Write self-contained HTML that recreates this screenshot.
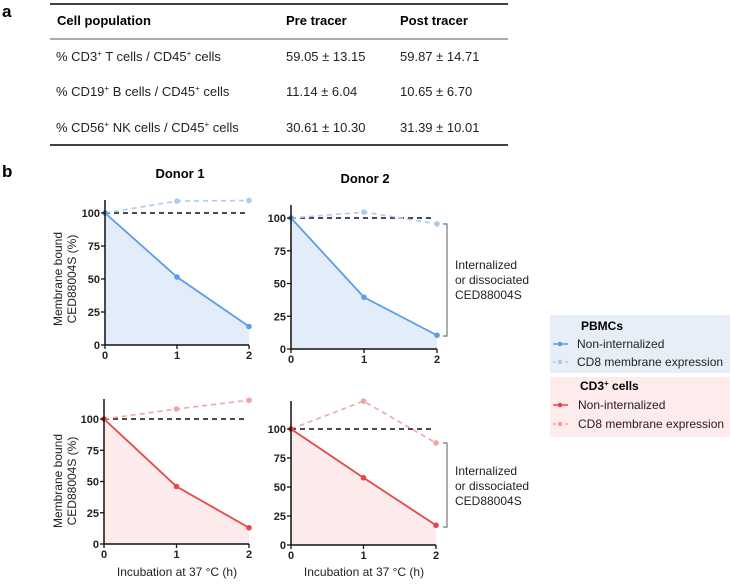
<!DOCTYPE html>
<html><head><meta charset="utf-8"><style>
body{margin:0;background:#fff;width:731px;height:581px;overflow:hidden;font-family:"Liberation Sans",Arial,sans-serif}
svg text{font-family:"Liberation Sans",Arial,sans-serif}
</style></head><body>
<svg id="fig" width="731" height="581" viewBox="0 0 731 581" xmlns="http://www.w3.org/2000/svg">
<g>
<text x="2" y="17" font-size="17" font-weight="bold">a</text>
<line x1="50" y1="4" x2="508" y2="4" stroke="#000" stroke-width="1.6"/>
<line x1="50" y1="39" x2="508" y2="39" stroke="#555" stroke-width="1"/>
<line x1="50" y1="145" x2="508" y2="145" stroke="#000" stroke-width="1.6"/>
<g font-size="13" font-weight="bold">
<text x="57" y="25">Cell population</text><text x="286" y="25">Pre tracer</text><text x="400" y="25">Post tracer</text></g>
<g font-size="13" fill="#222">
<text x="56" y="61">% CD3<tspan font-size="8" dy="-5">+</tspan><tspan dy="5"> T cells / CD45</tspan><tspan font-size="8" dy="-5">+</tspan><tspan dy="5"> cells</tspan></text>
<text x="286" y="61">59.05 ± 13.15</text><text x="400" y="61">59.87 ± 14.71</text>
<text x="56" y="96">% CD19<tspan font-size="8" dy="-5">+</tspan><tspan dy="5"> B cells / CD45</tspan><tspan font-size="8" dy="-5">+</tspan><tspan dy="5"> cells</tspan></text>
<text x="286" y="96">11.14  ±  6.04</text><text x="400" y="96">10.65  ±  6.70</text>
<text x="56" y="132">% CD56<tspan font-size="8" dy="-5">+</tspan><tspan dy="5"> NK cells / CD45</tspan><tspan font-size="8" dy="-5">+</tspan><tspan dy="5"> cells</tspan></text>
<text x="286" y="132">30.61  ± 10.30</text><text x="400" y="132">31.39  ± 10.01</text>
</g></g>
<text x="2" y="177" font-size="17" font-weight="bold">b</text>
<text x="180" y="178" font-size="13" font-weight="bold" text-anchor="middle">Donor 1</text>
<text x="365" y="183" font-size="13" font-weight="bold" text-anchor="middle">Donor 2</text>
<g font-size="12" fill="#222" text-anchor="middle" transform="translate(62,279) rotate(-90)"><text x="0" y="0">Membrane bound</text><text x="0" y="14">CED88004S (%)</text></g>
<g font-size="12" fill="#222" text-anchor="middle" transform="translate(62,481) rotate(-90)"><text x="0" y="0">Membrane bound</text><text x="0" y="14">CED88004S (%)</text></g>
<text x="177" y="576" font-size="12" fill="#222" text-anchor="middle">Incubation at 37 °C (h)</text>
<text x="364" y="576" font-size="12" fill="#222" text-anchor="middle">Incubation at 37 °C (h)</text>
<g><path d="M443 224 H447 V336 H443" fill="none" stroke="#777" stroke-width="1.2"/>
<g font-size="12" fill="#222"><text x="455" y="269">Internalized</text><text x="455" y="284">or dissociated</text><text x="455" y="299">CED88004S</text></g></g>
<g><path d="M443 443 H447 V527 H443" fill="none" stroke="#777" stroke-width="1.2"/>
<g font-size="12" fill="#222"><text x="455" y="475">Internalized</text><text x="455" y="490">or dissociated</text><text x="455" y="505">CED88004S</text></g></g>
<g>
<rect x="550" y="315" width="180" height="58" fill="#e8eef8"/>
<rect x="550" y="377" width="180" height="60" fill="#fdeceb"/>
<text x="581" y="330" font-size="12" font-weight="bold">PBMCs</text>
<g><line x1="553" y1="344" x2="568" y2="344" stroke="#5a9ee8" stroke-width="1.5"/><circle cx="560" cy="344" r="2.3" fill="#5a9ee8"/><text x="577" y="348" font-size="12" fill="#222">Non-internalized</text></g>
<g><line x1="553" y1="362" x2="568" y2="362" stroke="#a9cbf0" stroke-width="1.5" stroke-dasharray="3,3"/><circle cx="560" cy="362" r="2.3" fill="#a9cbf0"/><text x="577" y="366" font-size="12" fill="#222">CD8 membrane expression</text></g>
<text x="580" y="390" font-size="12" font-weight="bold">CD3<tspan font-size="8" dy="-4">+</tspan><tspan dy="4"> cells</tspan></text>
<g><line x1="553" y1="405" x2="568" y2="405" stroke="#e54848" stroke-width="1.5"/><circle cx="560" cy="405" r="2.3" fill="#e54848"/><text x="578" y="409" font-size="12" fill="#222">Non-internalized</text></g>
<g><line x1="553" y1="424" x2="568" y2="424" stroke="#f3a3a3" stroke-width="1.5" stroke-dasharray="3,3"/><circle cx="560" cy="424" r="2.3" fill="#f3a3a3"/><text x="578" y="428" font-size="12" fill="#222">CD8 membrane expression</text></g>
</g>
<g id="charts"></g>
</svg>
<script>
const hours = [0, 1, 2];
const yTicks = [0, 25, 50, 75, 100];
const d1PbmcNonInt = [100, 51.5, 14];
const d1PbmcCd8 = [100, 109, 109.5];
const d2PbmcNonInt = [100, 39.5, 10.5];
const d2PbmcCd8 = [100, 104.5, 95.5];
const d1Cd3NonInt = [100, 46, 13];
const d1Cd3Cd8 = [100, 108, 115];
const d2Cd3NonInt = [100, 58, 17];
const d2Cd3Cd8 = [100, 124, 88];
const refLine = [100, 100];

const NS = 'http://www.w3.org/2000/svg';
const root = document.getElementById('charts');
function mk(tag, attrs, parent){const e=document.createElementNS(NS,tag);for(const k in attrs)e.setAttribute(k,attrs[k]);parent.appendChild(e);return e;}

function panel(name, ax, y0, y100, x2, top, solid, dashed, cSolid, cDash, fill){
  const g = mk('g', {}, root);
  
  
  const sx = h => ax + (x2 - ax) * h / 2;
  const sy = v => y0 - (y0 - y100) * v / 100;
  let a = 'M' + sx(hours[0]) + ' ' + sy(0);
  hours.forEach((h,i)=>{a += ' L' + sx(h) + ' ' + sy(solid[i]);});
  a += ' L' + sx(hours[hours.length-1]) + ' ' + sy(0) + ' Z';
  const area = mk('path', {d:a, fill:fill}, g);
  
  
  const ref = mk('line', {x1:sx(0), y1:sy(refLine[0]), x2:sx(1.95), y2:sy(refLine[1]), stroke:'#111', 'stroke-width':1.6, 'stroke-dasharray':'5,4'}, g);
  
  
  const pts = arr => hours.map((h,i)=>sx(h)+','+sy(arr[i])).join(' ');
  const dl = mk('polyline', {points:pts(dashed), fill:'none', stroke:cDash, 'stroke-width':1.6, 'stroke-dasharray':'5,4'}, g);
  
  
  const sl = mk('polyline', {points:pts(solid), fill:'none', stroke:cSolid, 'stroke-width':1.8}, g);
  
  
  hours.forEach((h,i)=>{
    const p = mk('circle', {cx:sx(h), cy:sy(dashed[i]), r:2.8, fill:cDash}, g);
    
    
    const q = mk('circle', {cx:sx(h), cy:sy(solid[i]), r:2.8, fill:cSolid}, g);
    
    
  });
  mk('line', {x1:ax, y1:top, x2:ax, y2:y0, stroke:'#111', 'stroke-width':1.5}, g);
  mk('line', {x1:ax, y1:y0, x2:x2, y2:y0, stroke:'#111', 'stroke-width':1.5}, g);
  yTicks.forEach(t=>{
    mk('line', {x1:ax-4, y1:sy(t), x2:ax, y2:sy(t), stroke:'#111', 'stroke-width':1.3}, g);
    const tx = mk('text', {x:ax-5, y:sy(t)+4, 'font-size':11, 'font-weight':'bold', 'text-anchor':'end', fill:'#222'}, g);
    tx.textContent = t;
    
    
  });
  hours.forEach(h=>{
    mk('line', {x1:sx(h), y1:y0, x2:sx(h), y2:y0+4, stroke:'#111', 'stroke-width':1.3}, g);
    const tx = mk('text', {x:sx(h), y:y0+14, 'font-size':11, 'font-weight':'bold', 'text-anchor':'middle', fill:'#222'}, g);
    tx.textContent = h;
    
    
  });
}
panel('chart-donor1-pbmc', 105, 345, 213, 249, 200, d1PbmcNonInt, d1PbmcCd8, '#5a9ee8', '#a9cbf0', '#e3edfa');
panel('chart-donor2-pbmc', 291, 349, 218, 437, 205, d2PbmcNonInt, d2PbmcCd8, '#5a9ee8', '#a9cbf0', '#e3edfa');
panel('chart-donor1-cd3', 104, 544, 419, 249, 399, d1Cd3NonInt, d1Cd3Cd8, '#e54848', '#f3a3a3', '#fdeaea');
panel('chart-donor2-cd3', 291, 545, 429, 436, 401, d2Cd3NonInt, d2Cd3Cd8, '#e54848', '#f3a3a3', '#fdeaea');
</script>
</body></html>
